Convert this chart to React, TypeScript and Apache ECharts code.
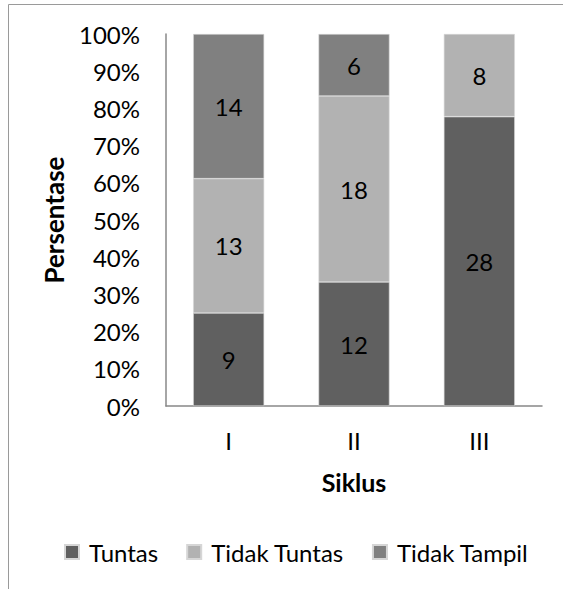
import React, { useEffect, useRef } from "react";
import * as echarts from "echarts";

const categories = ["I", "II", "III"];
const seriesNames = ["Tuntas", "Tidak Tuntas", "Tidak Tampil"];
const tuntas = [9, 12, 28];
const tidakTuntas = [13, 18, 8];
const tidakTampil = [14, 6, 0];
const yTicks = [0, 10, 20, 30, 40, 50, 60, 70, 80, 90, 100];
const colors = ["#606060", "#b2b2b2", "#808080"];

const FONT = "Lato";

export default function App() {
  const ref = useRef<HTMLDivElement>(null);
  useEffect(() => {
    document.body.style.margin = "0";
    const chart = echarts.init(ref.current!, null, { renderer: "svg" });
    const counts = [tuntas, tidakTuntas, tidakTampil];
    const totals = categories.map((_, i) => counts.reduce((s, arr) => s + arr[i], 0));
    const series = seriesNames.map((name, si) => ({
      name,
      type: "bar",
      stack: "total",
      barWidth: 71,
      itemStyle: { color: colors[si], borderColor: "#d6d6d6", borderWidth: 0.6 },
      label: {
        show: true,
        position: "inside",
        color: "#000",
        fontSize: 24,
        fontFamily: FONT,
        formatter: (p: any) => (p.data.count ? String(p.data.count) : ""),
      },
      data: categories.map((_, i) => ({
        value: (counts[si][i] / totals[i]) * 100,
        count: counts[si][i],
        itemStyle: counts[si][i] ? undefined : { borderWidth: 0, opacity: 0 },
      })),
    }));
    chart.setOption({
      animation: false,
      textStyle: { fontFamily: FONT },
      graphic: [
        {
          type: "rect",
          shape: { x: 8.5, y: 4.5, width: 700, height: 700 },
          style: { fill: "none", stroke: "#9a9a9a", lineWidth: 1 },
          silent: true,
        },
      ],
      grid: { left: 166, right: 21, top: 34, bottom: 183, containLabel: false },
      legend: {
        data: seriesNames,
        left: 64,
        top: 540,
        padding: 0,
        itemWidth: 14,
        itemHeight: 14,
        itemGap: 28,
        icon: "rect",
        textStyle: { fontSize: 24, fontFamily: FONT, color: "#000", padding: [0, 0, 0, 5] },
      },
      xAxis: {
        type: "category",
        data: categories,
        axisLine: { show: true, lineStyle: { color: "#888", width: 1.5 } },
        axisTick: { show: false },
        axisLabel: { fontSize: 24, fontFamily: FONT, color: "#000", margin: 22 },
        name: "Siklus",
        nameLocation: "middle",
        nameGap: 63,
        nameTextStyle: { fontSize: 25, fontWeight: "bold", fontFamily: FONT, color: "#000" },
      },
      yAxis: {
        type: "value",
        min: yTicks[0],
        max: yTicks[yTicks.length - 1],
        interval: 10,
        axisLine: { show: true, lineStyle: { color: "#888", width: 1.5 } },
        axisTick: { show: false },
        splitLine: { show: false },
        axisLabel: { fontSize: 24, fontFamily: FONT, color: "#000", margin: 26, formatter: "{value}%" },
        name: "Persentase",
        nameLocation: "middle",
        nameGap: 99,
        nameRotate: 90,
        nameTextStyle: { fontSize: 26, fontWeight: "bold", fontFamily: FONT, color: "#000" },
      },
      series,
    });
    return () => chart.dispose();
  }, []);
  return <div ref={ref} style={{ width: 563, height: 589 }} />;
}
